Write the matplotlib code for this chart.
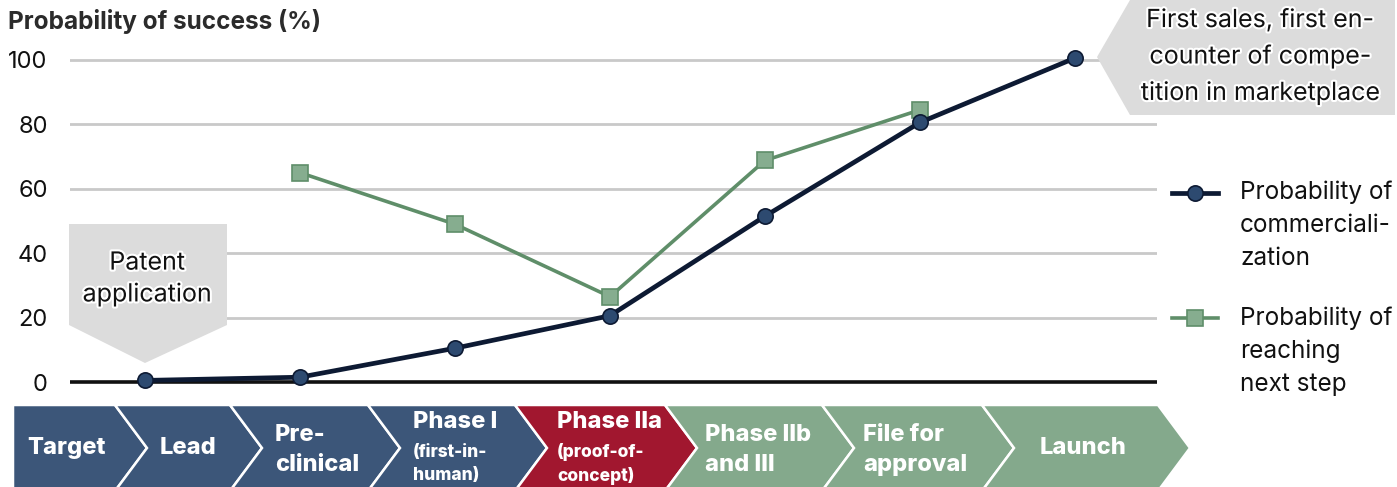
import numpy as np
import matplotlib
matplotlib.use('Agg')
from matplotlib import pyplot as plt
from matplotlib.patches import Polygon
from matplotlib.lines import Line2D
import matplotlib.patheffects as pe

plt.rcParams['font.family'] = ['Inter', 'DejaVu Sans']

# data
milestones = ['Lead', 'Pre-clinical', 'Phase I', 'Phase IIa', 'Phase IIb and III', 'File for approval', 'Launch']
p_commercial = [0.5, 1.5, 10.5, 20.6, 51.5, 80.6, 100.6]
next_idx = [2, 3, 4, 5, 6]          # milestones that have a "reaching next step" value
p_next_step = [65, 49, 26.5, 68.8, 84.5]
yticks = [0, 20, 40, 60, 80, 100]

stages = ['Target', 'Lead', 'Pre-\nclinical', 'Phase I', 'Phase IIa', 'Phase IIb\nand III', 'File for\napproval', 'Launch']
stage_sub = ['', '', '', '(first-in-\nhuman)', '(proof-of-\nconcept)', '', '', '']
stage_colors = ['#3c5679'] * 4 + ['#a1172f'] + ['#84a98c'] * 3

W, H = 1397, 487
fig = plt.figure(figsize=(W / 100, H / 100), dpi=100)

# main chart, placed in pixel terms
ax_top, ax_bot = 50.3, 391.7
ax = fig.add_axes([70 / W, 1 - ax_bot / H, (1157 - 70) / W, (ax_bot - ax_top) / H])
ax.set_xlim(0.516, 7.529)
ax.set_ylim(-3, 103)
ax.set_yticks(yticks)
ax.set_xticks([])
for s in ax.spines.values():
    s.set_visible(False)
ax.tick_params(axis='y', length=0, pad=16, labelsize=17, labelcolor='#111111')
for y in yticks[1:]:
    ax.axhline(y, color='#c9c9c9', lw=2, zorder=1)
ax.axhline(0, color='#111111', lw=2.6, zorder=2)

xs = np.arange(1, len(milestones) + 1)
ax.plot(next_idx, p_next_step, color='#5f8e69', lw=2.6, marker='s', ms=11,
        mfc='#86ad8f', mec='#5f8e69', mew=1.2, zorder=3, clip_on=False)
ax.plot(xs, p_commercial, color='#0d1a33', lw=3.4, marker='o', ms=11,
        mfc='#2d4a70', mec='#0d1a33', mew=1.2, zorder=4, clip_on=False)

fig.text(8 / W, 1 - 22 / H, 'Probability of success (%)', fontsize=17.5,
         fontweight='bold', color='#2b2b2b', va='center', ha='left')

# overlay in pixel coordinates for callouts, legend and the stage strip
ov = fig.add_axes([0, 0, 1, 1])
ov.set_xlim(0, W)
ov.set_ylim(H, 0)
ov.axis('off')

glow = [pe.withStroke(linewidth=3, foreground='white')]
box_c = '#dcdcdc'
ov.add_patch(Polygon([(69, 224), (227, 224), (227, 325), (145, 363), (69, 325)],
                     closed=True, fc=box_c, ec='none'))
ov.text(147, 279, 'Patent\napplication', ha='center', va='center', fontsize=18,
        linespacing=1.45, color='#111111', path_effects=glow)

ov.add_patch(Polygon([(1097, 57), (1130, 0), (1395, 0), (1395, 115), (1130, 115)],
                     closed=True, fc=box_c, ec='none'))
ov.text(1260, 57, 'First sales, first en-\ncounter of compe-\ntition in marketplace',
        ha='center', va='center', fontsize=18, linespacing=1.7, color='#111111',
        path_effects=glow)

# legend
leg = [('#0d1a33', '#2d4a70', 'o', 3.4, 193, 'Probability of\ncommerciali-\nzation'),
       ('#5f8e69', '#86ad8f', 's', 2.6, 318, 'Probability of\nreaching\nnext step')]
for lc, fc, mk, lw, y, lab in leg:
    ov.add_line(Line2D([1172, 1218], [y, y], color=lc, lw=lw))
    ov.add_line(Line2D([1195], [y], marker=mk, ms=11, mfc=fc, mec=lc, mew=1.2))
    ov.text(1240, y - 12, lab, ha='left', va='top', fontsize=17.5, linespacing=1.55,
            color='#111111')

# stage chevrons
edges = [13, 115, 230, 368, 515, 665, 822, 982, 1158]
d, top, bot = 32, 405, 491
mid = (top + bot) / 2
text_x = [66, 188, 275, 413, 557, 705, 863, 1083]
for i, (lab, sub, col) in enumerate(zip(stages, stage_sub, stage_colors)):
    x0, x1 = edges[i], edges[i + 1]
    pts = [(x0, top), (x1, top), (x1 + d, mid), (x1, bot), (x0, bot)]
    if i > 0:
        pts.append((x0 + d, mid))
    ov.add_patch(Polygon(pts, closed=True, fc=col, ec='white', lw=1.8))
    if sub:
        ov.text(text_x[i], 422, lab, ha='left', va='center', fontsize=17,
                fontweight='heavy', color='white')
        ov.text(text_x[i], 464, sub, ha='left', va='center', fontsize=12.5,
                fontweight='heavy', color='white', linespacing=1.4)
    elif '\n' in lab:
        ov.text(text_x[i], 450, lab, ha='left', va='center', fontsize=17,
                fontweight='heavy', color='white', linespacing=1.5)
    else:
        ov.text(text_x[i], 448, lab, ha='center', va='center', fontsize=17,
                fontweight='heavy', color='white')

fig.savefig('out.png', dpi=100)
